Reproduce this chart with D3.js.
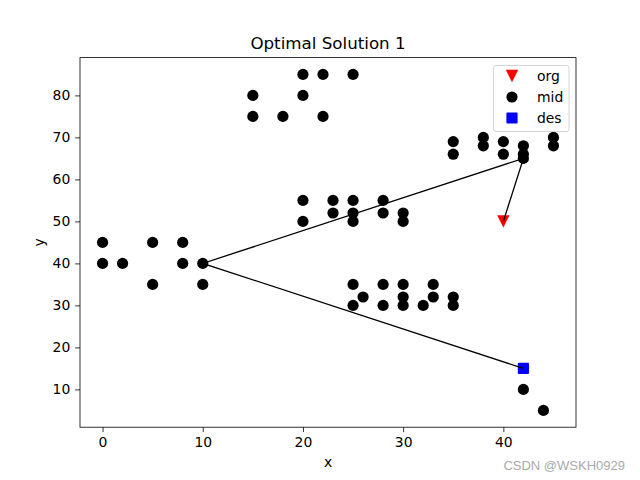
<!DOCTYPE html>
<html>
<head>
<meta charset="utf-8">
<script src="https://cdn.jsdelivr.net/npm/d3@7"></script>
<style>
html,body{margin:0;padding:0;background:#fff;}
svg{display:block;font-family:"DejaVu Sans",sans-serif;}
</style>
</head>
<body>
<svg id="chart" width="640" height="480"></svg>
<script>
// ---- data ----
const midX = [15,15,18,20,20,22,22,25,
              20,20,23,23,25,25,25,28,28,30,30,
              35,35,38,38,40,40,42,42,42,45,45,
              0,0,2,5,5,8,8,10,10,
              25,26,25,28,28,30,30,30,33,33,32,35,35,
              42,44];
const midY = [80,75,75,85,80,85,75,85,
              55,50,55,52,55,52,50,55,52,52,50,
              69,66,70,68,69,66,68,66,65,70,68,
              45,40,40,45,35,45,40,40,35,
              35,32,30,35,30,35,32,30,35,32,30,32,30,
              10,5];
const orgX = [40], orgY = [50];
const desX = [42], desY = [15];
const pathX = [40,42,10,42];
const pathY = [50,65,40,15];
const xTicks = [0,10,20,30,40];
const yTicks = [10,20,30,40,50,60,70,80];
const legendLabels = ["org","mid","des"];
const titleText = "Optimal Solution 1";

// ---- layout ----
const svg = d3.select("#chart");
const L = 80, R = 576, T = 57.6, B = 427.2;
const x = d3.scaleLinear().domain([-2.25, 47.25]).range([L, R]);
const y = d3.scaleLinear().domain([1, 89]).range([B, T]);

// axes
const xAxis = d3.axisBottom(x).tickValues(xTicks).tickSize(4.86).tickPadding(4.9).tickFormat(d3.format("d"));
const yAxis = d3.axisLeft(y).tickValues(yTicks).tickSize(4.86).tickPadding(4.9).tickFormat(d3.format("d"));

const gx = svg.append("g").attr("transform", `translate(0,${B})`).call(xAxis);
const gy = svg.append("g").attr("transform", `translate(${L},0)`).call(yAxis);
[gx, gy].forEach(g => {
  g.select(".domain").remove();
  g.selectAll(".tick line").attr("stroke", "#000").attr("stroke-width", 0.8);
  g.selectAll(".tick text").attr("fill", "#000").attr("font-size", "13.9px").attr("font-family", "DejaVu Sans");
});

// scatter mid
const plot = svg.append("g");
plot.selectAll("circle.mid").data(midX.map((v,i)=>[v, midY[i]])).enter()
  .append("circle").attr("class","mid")
  .attr("cx", d => x(d[0])).attr("cy", d => y(d[1])).attr("r", 5.6)
  .attr("fill", "#000");

// origin triangle
const triSize = 6.2;
function triDown(cx, cy, s){ return `M${cx-s},${cy-s}L${cx+s},${cy-s}L${cx},${cy+s}Z`; }
plot.selectAll("path.org").data(orgX.map((v,i)=>[v, orgY[i]])).enter()
  .append("path").attr("class","org")
  .attr("d", d => triDown(x(d[0]), y(d[1]), triSize)).attr("fill", "red");

// destination square
const sq = 5.6;
plot.selectAll("rect.des").data(desX.map((v,i)=>[v, desY[i]])).enter()
  .append("rect").attr("class","des")
  .attr("x", d => x(d[0]) - sq).attr("y", d => y(d[1]) - sq)
  .attr("width", 2*sq).attr("height", 2*sq).attr("rx", 1).attr("fill", "blue");

// path line
const line = d3.line().x(d => x(d[0])).y(d => y(d[1]));
plot.append("path").datum(pathX.map((v,i)=>[v, pathY[i]]))
  .attr("d", line).attr("fill","none").attr("stroke","#000").attr("stroke-width",1.3);

// frame
svg.append("rect").attr("x", L).attr("y", T).attr("width", R-L).attr("height", B-T)
  .attr("fill","none").attr("stroke","#000").attr("stroke-width",0.8);

// title and labels
svg.append("text").attr("x", (L+R)/2).attr("y", 49).attr("text-anchor","middle")
  .attr("font-size","16.7px").attr("fill","#000").text(titleText);
svg.append("text").attr("x", (L+R)/2).attr("y", 467).attr("text-anchor","middle")
  .attr("font-size","13.9px").attr("fill","#000").text("x");
svg.append("text").attr("transform", `translate(44,${(T+B)/2}) rotate(-90)`).attr("text-anchor","middle")
  .attr("font-size","13.9px").attr("fill","#000").text("y");

// legend
const lg = svg.append("g");
lg.append("rect").attr("x", 493.5).attr("y", 65.5).attr("width", 75.5).attr("height", 66)
  .attr("rx", 2.5).attr("fill","#fff").attr("fill-opacity",0.8).attr("stroke","#d5d5d5").attr("stroke-width",1);
const ly = [76, 97, 118];
const lmx = 512;
lg.append("path").attr("d", triDown(lmx, ly[0], triSize)).attr("fill","red");
lg.append("circle").attr("cx", lmx).attr("cy", ly[1]).attr("r", 5.6).attr("fill","#000");
lg.append("rect").attr("x", lmx-sq).attr("y", ly[2]-sq).attr("width",2*sq).attr("height",2*sq).attr("rx",1).attr("fill","blue");
legendLabels.forEach((t,i) => {
  lg.append("text").attr("x", 537).attr("y", ly[i]+5).attr("font-size","13.9px").attr("fill","#000").text(t);
});

// watermark
svg.append("text").attr("x", 625).attr("y", 470).attr("text-anchor","end")
  .attr("font-family","Liberation Sans, Arial, sans-serif").attr("font-size","13px").attr("fill","#aaa")
  .text("CSDN @WSKH0929");
</script>
</body>
</html>
